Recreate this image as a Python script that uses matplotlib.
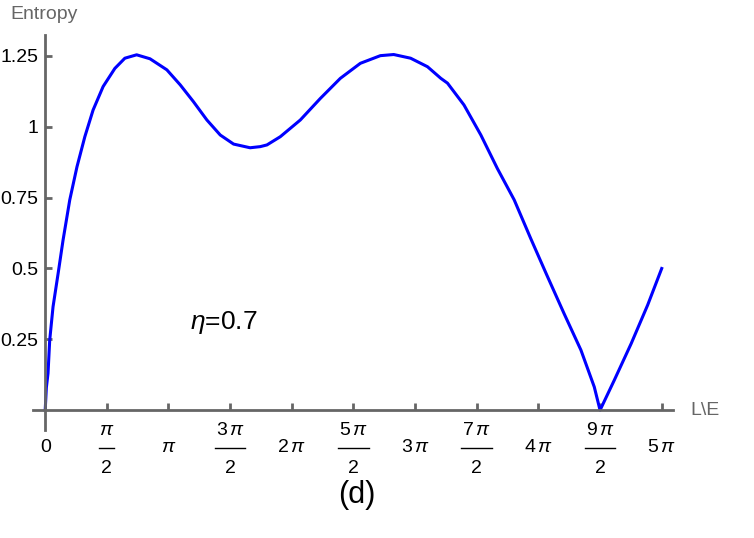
import numpy as np
import matplotlib
matplotlib.use("Agg")
import matplotlib.pyplot as plt

plt.rcParams['font.family'] = ['Liberation Sans', 'DejaVu Sans']
plt.rcParams['mathtext.fontset'] = 'custom'
plt.rcParams['mathtext.rm'] = 'Liberation Sans'
plt.rcParams['mathtext.it'] = 'Liberation Sans:italic'

# entropy curve (x in radians)
L_vals = [0.0, 0.03, 0.072, 0.115, 0.20, 0.33, 0.455, 0.626, 0.81, 1.01,
          1.22, 1.476, 1.775, 2.03, 2.33, 2.67, 3.10, 3.44, 3.775, 4.12,
          4.46, 4.80, 5.22, 5.48, 5.65, 5.99, 6.50, 7.01, 7.52, 8.03,
          8.54, 8.88, 9.31, 9.74, 10.08, 10.25, 10.67, 11.10, 11.52, 11.95,
          12.37, 12.78, 13.22, 13.65, 13.99, 14.137, 14.50, 14.93, 15.35, 15.708]
S_vals = [0.0, 0.08, 0.13, 0.247, 0.365, 0.483, 0.60, 0.742, 0.859, 0.965,
          1.059, 1.142, 1.206, 1.242, 1.254, 1.240, 1.201, 1.148, 1.089, 1.024,
          0.971, 0.939, 0.926, 0.930, 0.936, 0.965, 1.024, 1.10, 1.171, 1.224,
          1.251, 1.255, 1.242, 1.212, 1.171, 1.154, 1.077, 0.971, 0.853, 0.742,
          0.606, 0.477, 0.341, 0.212, 0.082, 0.0, 0.106, 0.235, 0.371, 0.50]

# x ticks at multiples of pi/2: plain labels, and numerators for the fractions
xtick_pos = [k * np.pi / 2 for k in range(11)]
xtick_labels = ['0', '', r'$\pi$', '', r'$2\,\pi$', '', r'$3\,\pi$', '', r'$4\,\pi$', '', r'$5\,\pi$']
frac_pos = [k * np.pi / 2 for k in (1, 3, 5, 7, 9)]
frac_num = [r'$\pi$', r'$3\,\pi$', r'$5\,\pi$', r'$7\,\pi$', r'$9\,\pi$']
ytick_pos = [0.25, 0.5, 0.75, 1.0, 1.25]
ytick_labels = ['0.25', '0.5', '0.75', '1', '1.25']

axis_gray = '#666666'

fig = plt.figure(figsize=(7.54, 5.38), dpi=100)
ax = fig.add_axes([0.0438, 0.2007, 0.849, 0.7343])

ax.plot(L_vals, S_vals, color='#0000ff', linewidth=2.2, solid_joinstyle='round')

ax.set_xlim(-0.31, 16.0)
ax.set_ylim(-0.07, 1.324)

for side in ['top', 'right']:
    ax.spines[side].set_visible(False)
for side in ['left', 'bottom']:
    ax.spines[side].set_position(('data', 0))
    ax.spines[side].set_color(axis_gray)
    ax.spines[side].set_linewidth(2.0)

ax.set_xticks(xtick_pos)
ax.set_xticklabels(xtick_labels)
ax.set_yticks(ytick_pos)
ax.set_yticklabels(ytick_labels)
ax.tick_params(axis='both', direction='in', length=5, width=2.0, color=axis_gray,
               labelsize=14, labelcolor='black')
ax.tick_params(axis='x', pad=27)
ax.tick_params(axis='y', pad=5)
for lab in ax.get_xticklabels():
    lab.set_verticalalignment('center')

# stacked fraction labels (numerator / bar / 2)
xtrans = ax.get_xaxis_transform()
for xp, num in zip(frac_pos, frac_num):
    ax.text(xp, 0.0, num, transform=xtrans, fontsize=14, ha='center', va='center',
            clip_on=False)
    ax.text(xp, -0.0962, '2', transform=xtrans, fontsize=14, ha='center', va='center',
            clip_on=False)
    half = 0.19 if num == r'$\pi$' else 0.39
    ax.plot([xp - half, xp + half], [-0.0456, -0.0456], transform=xtrans,
            color='black', linewidth=1.0, clip_on=False)

ax.text(-0.88, 1.395, 'Entropy', color=axis_gray, fontsize=14, ha='left', va='center',
        clip_on=False)
ax.text(16.45, 0.0, 'L\\E', color=axis_gray, fontsize=14, ha='left', va='center',
        clip_on=False)
ax.text(3.69, 0.31, r'$\eta$=0.7', fontsize=19, ha='left', va='center')
fig.text(0.4735, 0.08, '(d)', fontsize=22, ha='center', va='center')

fig.savefig('out.png', dpi=100)
